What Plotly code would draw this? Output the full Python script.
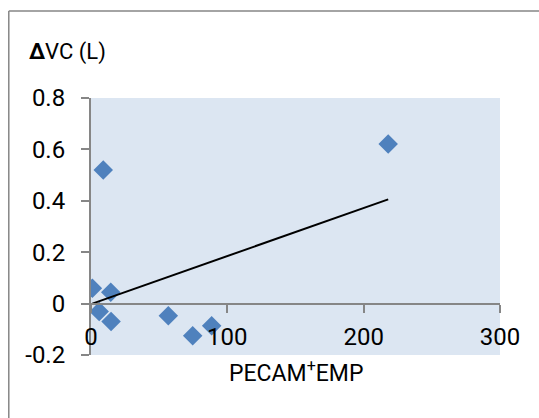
import numpy as np
import plotly.graph_objects as go

# data
pecam_emp = [1, 9, 14.5, 6, 14.7, 56.7, 74.6, 88.5, 218]
delta_vc = [0.06, 0.52, 0.044, -0.031, -0.07, -0.047, -0.125, -0.086, 0.621]
y_ticks = [0.8, 0.6, 0.4, 0.2, 0, -0.2]
y_tick_labels = ["0.8", "0.6", "0.4", "0.2", "0", "-0.2"]
x_ticks = [0, 100, 200, 300]
x_tick_labels = ["0", "100", "200", "300"]

x_range = [0, 300]
y_range = [-0.2, 0.8]

# linear trendline (least squares), from min x to max x
slope, intercept = np.polyfit(pecam_emp, delta_vc, 1)
tx = np.array([min(pecam_emp), max(pecam_emp)])
ty = slope * tx + intercept

FONT = "Roboto, Liberation Sans, DejaVu Sans, sans-serif"
GRAY = "#868686"

fig = go.Figure()
fig.add_trace(go.Scatter(
    x=pecam_emp, y=delta_vc, mode="markers",
    marker=dict(symbol="diamond", size=15, color="#4F81BD", line=dict(width=0)),
    showlegend=False, hoverinfo="skip",
))
fig.add_trace(go.Scatter(
    x=tx, y=ty, mode="lines", line=dict(color="black", width=2),
    showlegend=False, hoverinfo="skip",
))
# invisible trace to create the label-only axis
fig.add_trace(go.Scatter(
    x=pecam_emp, y=delta_vc, mode="markers", xaxis="x2",
    marker=dict(opacity=0), showlegend=False, hoverinfo="skip",
))

zero_pos = (0 - y_range[0]) / (y_range[1] - y_range[0])

fig.update_layout(
    width=539, height=418,
    margin=dict(l=91, r=39, t=98, b=63, autoexpand=False),
    paper_bgcolor="white", plot_bgcolor="#DCE6F2",
    font=dict(family=FONT, size=24, color="#000000"),
    xaxis=dict(
        range=x_range, anchor="free", position=zero_pos, automargin=False,
        showgrid=False, zeroline=False,
        showline=True, linecolor=GRAY, linewidth=2,
        ticks="outside", ticklen=8, tickwidth=2, tickcolor=GRAY,
        tickvals=x_ticks, showticklabels=False,
    ),
    xaxis2=dict(
        range=x_range, overlaying="x", matches="x", anchor="free", position=0.138,
        automargin=False,
        showgrid=False, zeroline=False, showline=False, ticks="",
        tickvals=x_ticks, ticktext=x_tick_labels,
        tickfont=dict(family=FONT, size=24, color="#000000"),
    ),
    yaxis=dict(
        range=y_range, showgrid=False, zeroline=False, automargin=False,
        showline=True, linecolor=GRAY, linewidth=2,
        ticks="outside", ticklen=8, tickwidth=2, tickcolor=GRAY,
        tickvals=y_ticks, ticktext=y_tick_labels, ticklabelstandoff=11,
        tickfont=dict(family=FONT, size=24, color="#000000"),
    ),
    annotations=[
        dict(text="<b>Δ</b>VC (L)", xref="paper", yref="paper",
             x=-0.156, y=1.179, xanchor="left", yanchor="middle",
             showarrow=False, font=dict(family=FONT, size=22, color="#000000")),
        dict(text="PECAM<sup>+</sup>EMP", xref="paper", yref="paper",
             x=0.5, y=-0.066, xanchor="center", yanchor="middle",
             showarrow=False, font=dict(family=FONT, size=23, color="#000000")),
    ],
    shapes=[
        # chart border: only top and left edges fall inside the picture
        dict(type="line", xref="paper", yref="paper",
             x0=-0.201, y0=1.3385, x1=1.3, y1=1.3385,
             line=dict(color=GRAY, width=1.5), layer="below"),
        dict(type="line", xref="paper", yref="paper",
             x0=-0.201, y0=-0.6, x1=-0.201, y1=1.3385,
             line=dict(color=GRAY, width=1.5), layer="below"),
    ],
)

fig.write_html(
    "out.html",
    config={"displayModeBar": False},
    post_script="document.body.style.margin='0';document.body.style.overflow='hidden';",
)
